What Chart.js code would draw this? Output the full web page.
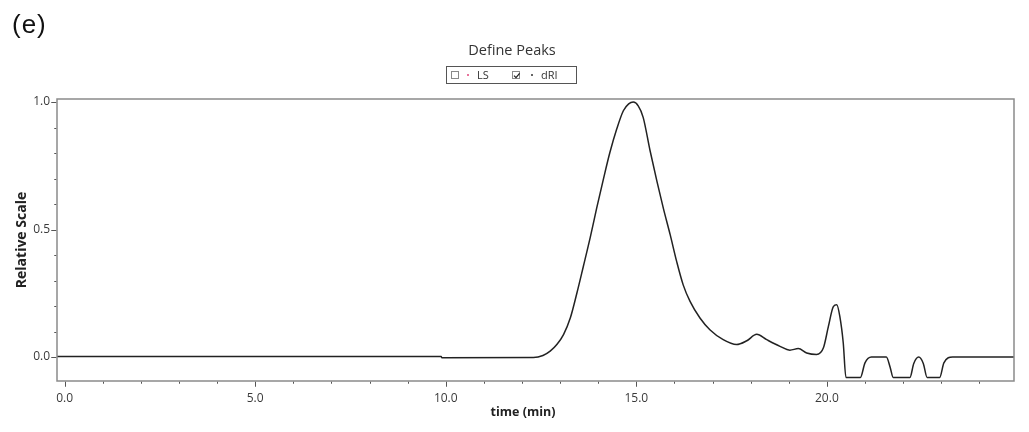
<!DOCTYPE html>
<html>
<head>
<meta charset="utf-8">
<title>Define Peaks</title>
<script src="https://cdn.jsdelivr.net/npm/chart.js@4.4.1/dist/chart.umd.min.js"></script>
<style>
  body { margin: 0; background: #fff; font-family: "Open Sans", sans-serif; }
  #wrap { position: relative; width: 1029px; height: 432px; overflow: hidden; }
  #chart { position: absolute; left: 0; top: 0; }
  #panel { position: absolute; left: 12px; top: 11px; font: 26px/26px "Liberation Sans", Arial, sans-serif; letter-spacing: 1px; color: #111; }
  #title { position: absolute; left: 412px; width: 200px; top: 40px; text-align: center; font-size: 14.5px; color: #333; }
  #xtitle { position: absolute; left: 448px; width: 150px; top: 403px; text-align: center; font-size: 12.5px; line-height: 17px; font-weight: bold; color: #222; }
  #legend { position: absolute; left: 446px; top: 66px; width: 131px; height: 18px; border: 1px solid #555; box-sizing: border-box; }
  .box { position: absolute; top: 4px; width: 8px; height: 8px; border: 1px solid #8a8a8a; box-sizing: border-box; background: #fff; }
  .box svg { position: absolute; left: 0; top: 0; }
  .dot { position: absolute; top: 7px; width: 2px; height: 2px; border-radius: 1px; }
  .lab { position: absolute; top: 0; font-size: 11px; line-height: 16px; color: #333; }
</style>
</head>
<body>
<div id="wrap">
  <canvas id="chart" width="1029" height="432"></canvas>
  <div id="panel">(e)</div>
  <div id="title">Define Peaks</div>
  <div id="legend">
    <span class="box" style="left:4px"></span>
    <span class="dot" style="left:20px;background:#e0457b"></span>
    <span class="lab" style="left:30px">LS</span>
    <span class="box" style="left:65px"><svg width="8" height="8" viewBox="0 0 8 8"><path d="M1 3.6 L3 5.6 L6.6 1.4" fill="none" stroke="#222" stroke-width="1.3"/></svg></span>
    <span class="dot" style="left:84px;background:#333"></span>
    <span class="lab" style="left:94px">dRI</span>
  </div>
  <div id="xtitle">time (min)</div>
</div>
<script>
// dRI trace, normalised detector response vs. elution time
const timeMin = [
  -0.2, 9.88, 9.9, 12.3, 12.55, 12.74, 12.92, 13.09, 13.27, 13.44,
  13.61, 13.79, 13.96, 14.14, 14.31, 14.49, 14.66, 14.8, 14.92, 15.05,
  15.18, 15.36, 15.54, 15.71, 15.89, 16.06, 16.23, 16.41, 16.67, 16.93,
  17.28, 17.63, 17.9, 18.16, 18.42, 18.77, 19.03, 19.25, 19.47, 19.73,
  19.91, 20.04, 20.17, 20.26, 20.34, 20.43, 20.5, 20.88, 21.0, 21.17,
  21.56, 21.66, 21.74, 22.18, 22.28, 22.41, 22.53, 22.63, 22.96, 23.07,
  23.3, 24.91
];
const dRI = [
  0.002, 0.002, -0.003, -0.002, 0.006, 0.023, 0.05, 0.088, 0.154, 0.25,
  0.355, 0.468, 0.584, 0.70, 0.804, 0.896, 0.966, 0.993, 1.0, 0.985,
  0.94, 0.81, 0.69, 0.583, 0.479, 0.374, 0.283, 0.218, 0.153, 0.107,
  0.068, 0.049, 0.064, 0.089, 0.068, 0.042, 0.027, 0.033, 0.016, 0.01,
  0.036, 0.12, 0.198, 0.205, 0.159, 0.055, -0.08, -0.08, -0.023, 0,
  0, -0.04, -0.08, -0.08, -0.025, 0, -0.025, -0.08, -0.08, -0.023,
  0, 0
];

// axis ticks
const xMajor = [0, 5, 10, 15, 20];
const xMinor = [1, 2, 3, 4, 6, 7, 8, 9, 11, 12, 13, 14, 16, 17, 18, 19, 21, 22, 23, 24];
const yMajor = [0, 0.5, 1.0];
const yMinor = [0.1, 0.2, 0.3, 0.4, 0.6, 0.7, 0.8, 0.9];

const FONT = "'Open Sans', sans-serif";
const INK = "#3a3a3a";

function tickList(major, minor) {
  return major.map(v => ({ value: v, isMajor: true }))
    .concat(minor.map(v => ({ value: v, isMajor: false })))
    .sort((a, b) => a.value - b.value);
}

// plot frame plus outward tick marks (long = labelled, short = minor)
const frameAndTicks = {
  id: "frameAndTicks",
  afterDraw(chart) {
    const { ctx, chartArea: a, scales } = chart;
    ctx.save();
    ctx.strokeStyle = "#8a8a8a";
    ctx.lineWidth = 1.5;
    ctx.strokeRect(a.left, a.top, a.right - a.left, a.bottom - a.top);

    ctx.strokeStyle = "#555";
    ctx.lineWidth = 1;
    ctx.beginPath();
    scales.x.ticks.forEach(t => {
      const px = Math.round(scales.x.getPixelForValue(t.value)) + 0.5;
      const len = t.isMajor ? 5 : 2;
      ctx.moveTo(px, a.bottom + 0.75);
      ctx.lineTo(px, a.bottom + 0.75 + len);
    });
    scales.y.ticks.forEach(t => {
      const py = Math.round(scales.y.getPixelForValue(t.value)) + 0.5;
      const len = t.isMajor ? 5 : 2;
      ctx.moveTo(a.left - 0.75, py);
      ctx.lineTo(a.left - 0.75 - len, py);
    });
    ctx.stroke();
    ctx.restore();
  }
};

new Chart(document.getElementById("chart"), {
  type: "line",
  data: {
    datasets: [{
      label: "dRI",
      data: timeMin.map((t, i) => ({ x: t, y: dRI[i] })),
      borderColor: "#222",
      borderWidth: 1.5,
      pointRadius: 0,
      cubicInterpolationMode: "monotone",
      fill: false,
    }],
  },
  options: {
    responsive: false,
    animation: false,
    devicePixelRatio: 1,
    layout: { padding: { top: 99, right: 15, left: 0, bottom: 0 } },
    plugins: { legend: { display: false }, title: { display: false }, tooltip: { enabled: false } },
    scales: {
      x: {
        type: "linear",
        min: -0.2,
        max: 24.91,
        border: { display: false },
        grid: { display: false, drawTicks: false },
        afterBuildTicks: (s) => { s.ticks = tickList(xMajor, xMinor); },
        afterFit: (s) => { s.height = 51; },
        ticks: {
          autoSkip: false,
          maxRotation: 0,
          padding: 10,
          color: INK,
          font: { family: FONT, size: 12 },
          callback: (v) => (xMajor.includes(v) ? v.toFixed(1) : ""),
        },
        title: { display: false },
      },
      y: {
        min: -0.094,
        max: 1.012,
        border: { display: false },
        grid: { display: false, drawTicks: false },
        afterBuildTicks: (s) => { s.ticks = tickList(yMajor, yMinor); },
        afterFit: (s) => { s.width = 57; },
        ticks: {
          autoSkip: false,
          padding: 7,
          color: INK,
          font: { family: FONT, size: 12 },
          callback: (v) => (yMajor.includes(v) ? v.toFixed(1) : ""),
        },
        title: {
          display: true,
          text: "Relative Scale",
          color: "#222",
          font: { family: FONT, size: 14, weight: "bold" },
          padding: { top: 14, bottom: 4 },
        },
      },
    },
  },
  plugins: [frameAndTicks],
});
</script>
</body>
</html>
